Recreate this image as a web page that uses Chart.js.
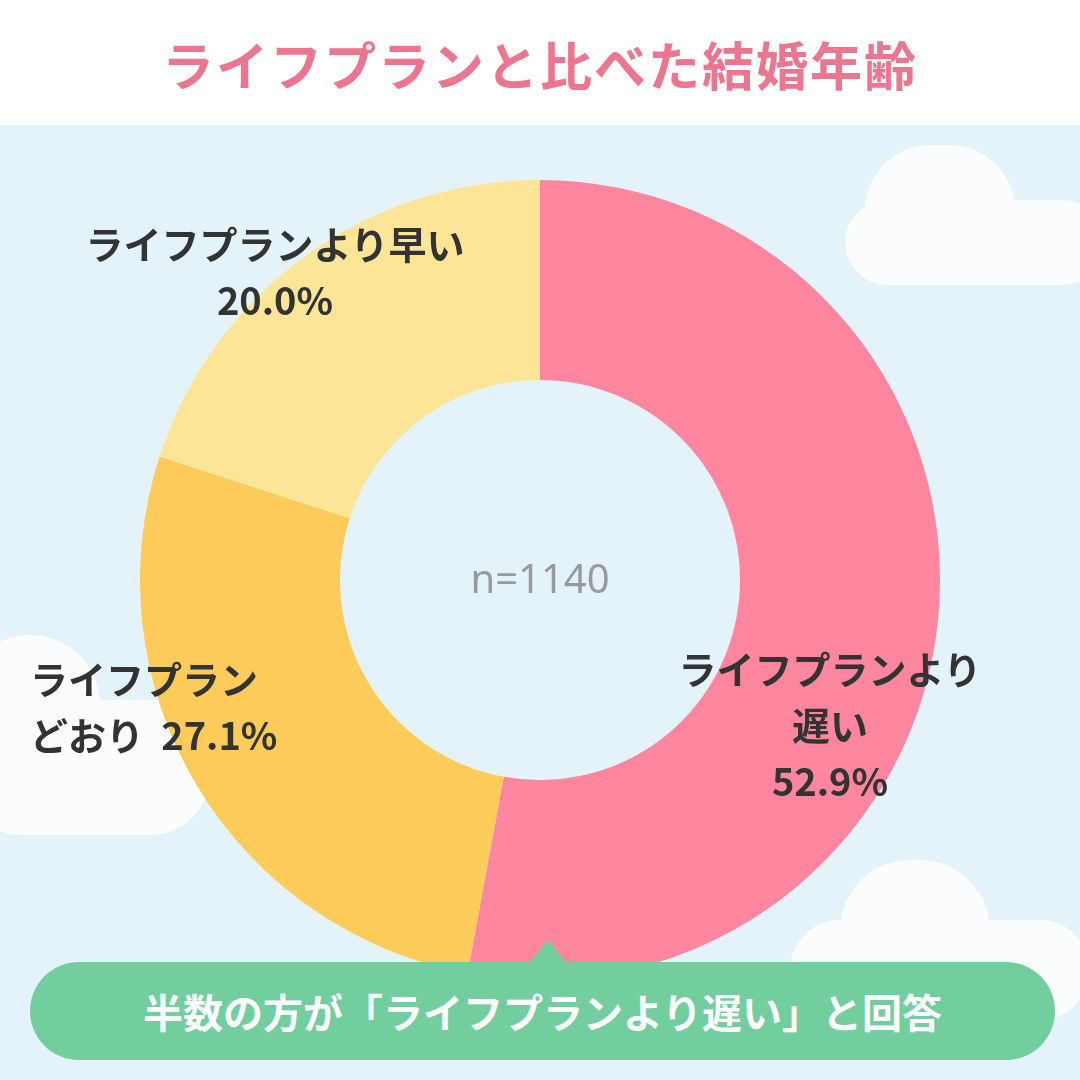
<!DOCTYPE html>
<html><head><meta charset="utf-8">
<script src="https://cdn.jsdelivr.net/npm/chart.js@4/dist/chart.umd.min.js"></script>
<style>
body{margin:0;width:1080px;height:1080px;overflow:hidden;font-family:"Noto Sans CJK JP","Noto Sans",sans-serif;}
#page{position:relative;width:1080px;height:1080px;background:#E4F3FA;}
#head{position:absolute;left:0;top:0;width:1080px;height:125px;background:#fff;text-align:center;}
#head h1{margin:0;line-height:128px;font-size:52px;color:#EC7590;font-weight:700;letter-spacing:2px;}
.cloud{position:absolute;background:#FAFCFD;border-radius:60px;}
.lbl{position:absolute;font-size:38px;font-weight:700;color:#333;text-align:center;line-height:56px;}
#wrap{position:absolute;left:140px;top:180px;width:800px;height:800px;}
#banner{position:absolute;left:30px;top:962px;width:1025px;height:98px;background:#72CE9E;border-radius:49px;color:#fff;font-size:40px;font-weight:700;text-align:center;line-height:98px;}
#tri{position:absolute;left:528px;top:940px;width:0;height:0;border-left:20px solid transparent;border-right:20px solid transparent;border-bottom:24px solid #72CE9E;}
</style></head>
<body><div id="page">
<div id="head"><h1>ライフプランと比べた結婚年齢</h1></div>
<div class="cloud" style="left:845px;top:200px;width:260px;height:85px;"></div>
<div class="cloud" style="left:865px;top:145px;width:150px;height:130px;border-radius:75px;"></div>
<div class="cloud" style="left:-40px;top:700px;width:250px;height:135px;"></div>
<div class="cloud" style="left:-40px;top:635px;width:140px;height:140px;border-radius:70px;"></div>
<div class="cloud" style="left:790px;top:920px;width:300px;height:100px;"></div>
<div class="cloud" style="left:840px;top:860px;width:150px;height:140px;border-radius:75px;"></div>
<div id="wrap"><canvas id="c"></canvas></div>
<div class="lbl" style="left:20px;top:215px;width:510px;">ライフプランより早い<br>20.0%</div>
<div class="lbl" style="left:30px;top:650px;width:320px;text-align:left;">ライフプラン<br>どおり&nbsp; 27.1%</div>
<div class="lbl" style="left:620px;top:640px;width:420px;">ライフプランより<br>遅い<br>52.9%</div>
<div id="tri"></div>
<div id="banner">半数の方が「ライフプランより遅い」と回答</div>
</div>
<script>
const categories = ["ライフプランより遅い", "ライフプランどおり", "ライフプランより早い"];
const shares = [52.9, 27.1, 20.0];
const sliceColors = ["#FF869E", "#FDCB5A", "#FDE598"];
const sampleLabel = "n=1140";

const centerText = {
  id: 'centerText',
  afterDraw(chart) {
    const ctx = chart.ctx;
    const a = chart.getDatasetMeta(0).data[0];
    ctx.save();
    ctx.font = '40px "Noto Sans", sans-serif';
    ctx.fillStyle = '#999';
    ctx.textAlign = 'center';
    ctx.textBaseline = 'middle';
    ctx.fillText(sampleLabel, a.x, a.y + 2);
    ctx.restore();
  }
};

new Chart(document.getElementById('c'), {
  type: 'doughnut',
  data: { labels: categories, datasets: [{ data: shares, backgroundColor: sliceColors, borderWidth: 0 }] },
  options: {
    responsive: true, maintainAspectRatio: false, animation: false,
    cutout: '50%',
    plugins: { legend: { display: false }, tooltip: { enabled: false } }
  },
  plugins: [centerText]
});
</script>
</body></html>
